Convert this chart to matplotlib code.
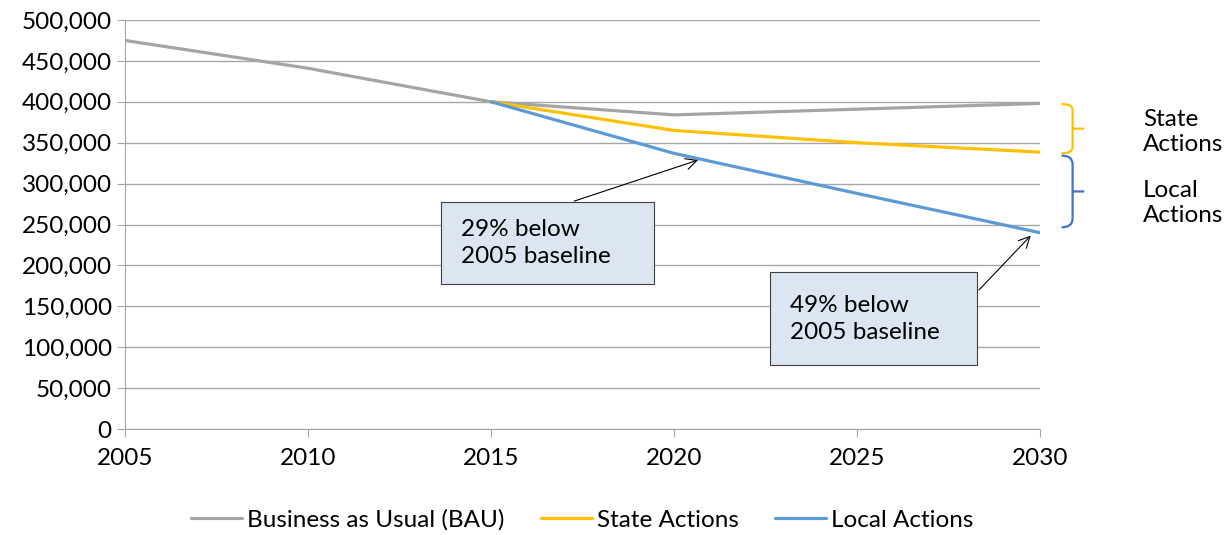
import matplotlib
matplotlib.use("Agg")
import matplotlib.pyplot as plt
import numpy as np
from matplotlib.path import Path
from matplotlib.patches import PathPatch, Rectangle
from matplotlib.ticker import FuncFormatter

plt.rcParams['font.family'] = ['Lato', 'DejaVu Sans']

# data
years = [2005, 2010, 2015, 2020, 2025, 2030]
bau = [475000, 441000, 400000, 384000, 391000, 398000]
state_years = [2015, 2020, 2025, 2030]
state = [400000, 365000, 350000, 338500]
local_years = [2015, 2020, 2025, 2030]
local = [400000, 337000, 288000, 240000]

series_names = ["Business as Usual (BAU)", "State Actions", "Local Actions"]
colors = ["#A5A5A5", "#FFC000", "#5B9BD5"]
notes = ["29% below\n2005 baseline", "49% below\n2005 baseline"]

FS = 17.5

fig = plt.figure(figsize=(12.31, 5.35), dpi=100)
ax = fig.add_axes([125 / 1231, 1 - 429 / 535, 915 / 1231, 409 / 535])

ax.plot(years, bau, color=colors[0], lw=2.3, label=series_names[0], solid_capstyle='round')
ax.plot(state_years, state, color=colors[1], lw=2.3, label=series_names[1], solid_capstyle='round')
ax.plot(local_years, local, color=colors[2], lw=2.3, label=series_names[2], solid_capstyle='round')

ax.set_xlim(2005, 2030)
ax.set_ylim(0, 500000)
ax.set_xticks(years)
ax.set_yticks(np.arange(0, 500001, 50000))
ax.yaxis.set_major_formatter(FuncFormatter(lambda v, p: f"{int(v):,}"))
ax.grid(axis='y', color='#A6A6A6', lw=1)
ax.set_axisbelow(True)
for s in ['top', 'right']:
    ax.spines[s].set_visible(False)
for s in ['left', 'bottom']:
    ax.spines[s].set_color('#A6A6A6')
ax.tick_params(axis='y', length=5.5, color='#A6A6A6', labelsize=FS, pad=4)
ax.tick_params(axis='x', length=5.5, color='#A6A6A6', labelsize=FS, pad=8)

# annotation boxes
def note_box(x0, y0, w, h, text):
    ax.add_patch(Rectangle((x0, y0), w, h, facecolor='#DCE6F2', edgecolor='#404040',
                           lw=0.8, clip_on=False, zorder=4))
    ax.text(x0 + 0.54, y0 + h / 2, text, fontsize=FS, va='center', ha='left',
            linespacing=1.35, zorder=5)

note_box(2013.64, 177500, 5.82, 100000, notes[0])
note_box(2022.62, 78200, 5.66, 113700, notes[1])

xa = 2020.73
ax.annotate('', xy=(xa, np.interp(xa, local_years, local)), xytext=(2017.2, 277500),
            arrowprops=dict(arrowstyle='->', color='black', lw=0.8, mutation_scale=20), zorder=6)
xb = 2029.8
ax.annotate('', xy=(xb, np.interp(xb, local_years, local) - 3000), xytext=(2028.28, 167500),
            arrowprops=dict(arrowstyle='->', color='black', lw=0.8, mutation_scale=20), zorder=6)

# braces to the right of the chart
def brace(y_top, y_bot, color, x0=2030.59, w=0.30, tip=0.32):
    mid = (y_top + y_bot) / 2
    r = 0.12 * (y_top - y_bot)
    verts = [(x0, y_top), (x0 + w, y_top), (x0 + w, y_top - r),
             (x0 + w, y_bot + r), (x0 + w, y_bot), (x0, y_bot),
             (x0 + w, mid), (x0 + w + tip, mid)]
    codes = [Path.MOVETO, Path.CURVE3, Path.CURVE3,
             Path.LINETO, Path.CURVE3, Path.CURVE3,
             Path.MOVETO, Path.LINETO]
    ax.add_patch(PathPatch(Path(verts, codes), fill=False, edgecolor=color, lw=1.6,
                           clip_on=False, capstyle='butt'))

brace(bau[-1] - 700, state[-1] - 1500, colors[1])
brace(state[-1] - 4300, local[-1] + 6600, "#4472C4")
ax.text(2032.82, 363500, "State\nActions", fontsize=FS, va='center', ha='left', linespacing=1.23)
ax.text(2032.82, 276000, "Local\nActions", fontsize=FS, va='center', ha='left', linespacing=1.23)

ax.legend(loc='center', bbox_to_anchor=(0.5, -0.2225), ncol=3, frameon=False, fontsize=FS,
          handlelength=2.1, handletextpad=0.2, columnspacing=1.5)

fig.savefig("out.png", dpi=100)
